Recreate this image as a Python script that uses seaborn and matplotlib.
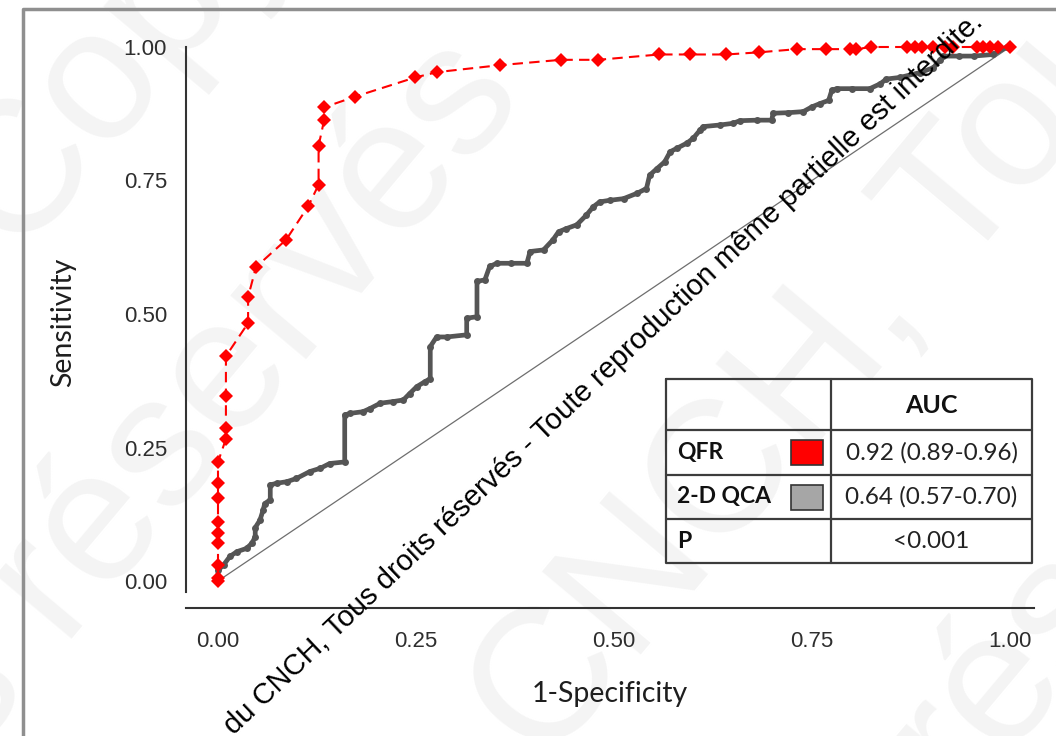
"""
ROC curves: QFR vs 2-D QCA
"""
import matplotlib
matplotlib.use("Agg")
import matplotlib.pyplot as plt
import seaborn as sns
import pandas as pd
from matplotlib.patches import Rectangle

# --- data ---------------------------------------------------------------
qfr_fpr = [0, 0, 0, 0, 0, 0, 0, 0, 0, 0.010, 0.010, 0.010, 0.010,
           0.038, 0.038, 0.048, 0.086, 0.114, 0.127, 0.127, 0.134, 0.134,
           0.173, 0.249, 0.277, 0.356, 0.433, 0.480, 0.557, 0.596, 0.642,
           0.683, 0.731, 0.768, 0.798, 0.806, 0.825, 0.870, 0.880, 0.889,
           0.903, 0.918, 0.928, 0.958, 0.966, 0.975, 0.985, 1.0]
qfr_tpr = [0.0, 0.006, 0.030, 0.071, 0.090, 0.110, 0.155, 0.184, 0.223,
           0.266, 0.287, 0.346, 0.421, 0.483, 0.532, 0.588, 0.639, 0.702,
           0.742, 0.815, 0.863, 0.887, 0.907, 0.943, 0.953, 0.966, 0.976,
           0.976, 0.986, 0.986, 0.986, 0.990, 0.996, 0.996, 0.996, 0.996,
           1.0, 1.0, 1.0, 1.0, 1.0, 1.0, 1.0, 1.0, 1.0, 1.0, 1.0, 1.0]

qca_fpr = [0.0, 0.0, 0.007, 0.015, 0.024, 0.036, 0.043, 0.047, 0.047, 0.053,
           0.057, 0.059, 0.066, 0.066, 0.074, 0.087, 0.099, 0.116, 0.129,
           0.141, 0.160, 0.160, 0.167, 0.183, 0.192, 0.205, 0.221, 0.234,
           0.242, 0.251, 0.261, 0.268, 0.268, 0.276, 0.289, 0.314, 0.314,
           0.327, 0.327, 0.337, 0.343, 0.352, 0.370, 0.390, 0.394, 0.411,
           0.423, 0.430, 0.440, 0.453, 0.465, 0.474, 0.482, 0.495, 0.512,
           0.529, 0.541, 0.545, 0.554, 0.564, 0.571, 0.579, 0.592, 0.600,
           0.609, 0.613, 0.634, 0.650, 0.659, 0.680, 0.699, 0.701, 0.720,
           0.739, 0.750, 0.760, 0.771, 0.775, 0.781, 0.800, 0.823, 0.836,
           0.844, 0.861, 0.886, 0.903, 0.912, 0.916, 0.935, 0.954, 0.979,
           0.996, 1.0]
qca_tpr = [0.0, 0.020, 0.030, 0.046, 0.055, 0.061, 0.071, 0.083, 0.100, 0.114,
           0.133, 0.145, 0.152, 0.180, 0.183, 0.186, 0.192, 0.205, 0.211,
           0.220, 0.223, 0.311, 0.314, 0.317, 0.323, 0.333, 0.336, 0.339,
           0.351, 0.364, 0.373, 0.379, 0.439, 0.457, 0.457, 0.461, 0.492,
           0.495, 0.561, 0.564, 0.589, 0.595, 0.595, 0.595, 0.617, 0.620,
           0.639, 0.654, 0.660, 0.667, 0.685, 0.701, 0.710, 0.713, 0.716,
           0.726, 0.735, 0.760, 0.772, 0.785, 0.804, 0.810, 0.820, 0.829,
           0.845, 0.851, 0.854, 0.857, 0.862, 0.863, 0.863, 0.876, 0.877,
           0.879, 0.888, 0.894, 0.900, 0.919, 0.922, 0.922, 0.922, 0.931,
           0.940, 0.943, 0.952, 0.961, 0.976, 0.983, 0.983, 0.983, 0.986,
           1.0, 1.0]

ref_line = [0.0, 1.0]

tick_values = [0.0, 0.25, 0.50, 0.75, 1.0]
tick_labels = ['0.00', '0.25', '0.50', '0.75', '1.00']

row_names = ['QFR', '2-D QCA', 'P']
row_auc = ['0.92 (0.89-0.96)', '0.64 (0.57-0.70)', '<0.001']
row_swatch = ['#ff0000', '#a6a6a6', None]

watermark = "du CNCH, Tous droits réservés - Toute reproduction même partielle est interdite."

# --- figure --------------------------------------------------------------
sns.set_style('white')
plt.rcParams['font.family'] = ['Liberation Sans', 'DejaVu Sans']

W, H = 1056, 736
fig = plt.figure(figsize=(W / 100, H / 100), dpi=100)

# background layer in pixel coordinates (faint watermark)
bg = fig.add_axes([0, 0, 1, 1], zorder=0)
bg.set_xlim(0, W)
bg.set_ylim(H, 0)
bg.axis('off')
for x, y, s in [(15, 255, 'Copyright'), (-30, 760, 's réservés'),
                (545, 770, 'CNCH, Tous'), (960, 800, 'rés')]:
    bg.text(x, y, s, rotation=50, rotation_mode='anchor', fontsize=135,
            color='#f4f4f4', ha='left', va='baseline')

# main plot area, placed so that 0..1 maps onto the reference pixels
px_x0, px_x1 = 218, 1010
px_y0, px_y1 = 581, 47
xlim = (-0.04, 1.03)
ylim = (-0.05, 1.02)
left = (px_x0 + xlim[0] * (px_x1 - px_x0)) / W
right = (px_x0 + xlim[1] * (px_x1 - px_x0)) / W
bottom = (H - (px_y0 + ylim[0] * (px_y1 - px_y0))) / H
top = (H - (px_y0 + ylim[1] * (px_y1 - px_y0))) / H
ax = fig.add_axes([left, bottom, right - left, top - bottom], zorder=1)
ax.patch.set_alpha(0)

ax.plot(ref_line, ref_line, color='#6e6e6e', linewidth=0.9, zorder=1)

sns.lineplot(x=qca_fpr, y=qca_tpr, ax=ax, estimator=None, sort=False,
             color='#555555', linewidth=3.4, marker='o', markersize=5,
             markeredgewidth=0, legend=False, zorder=2)
sns.lineplot(x=qfr_fpr, y=qfr_tpr, ax=ax, estimator=None, sort=False,
             color='#ff0000', linewidth=1.5, linestyle=(0, (5, 3)),
             marker='D', markersize=7.5, markeredgewidth=0, legend=False,
             zorder=3, clip_on=False)

ax.set_xlim(*xlim)
ax.set_ylim(*ylim)
ax.set_xticks(tick_values)
ax.set_xticklabels(tick_labels)
ax.set_yticks(tick_values)
ax.set_yticklabels(tick_labels)
sns.despine(ax=ax)
for side in ['left', 'bottom']:
    ax.spines[side].set_color('#333333')
    ax.spines[side].set_linewidth(1.5)
ax.spines['left'].set_bounds(-0.02, 1.0)
ax.tick_params(axis='both', direction='out', length=9, width=1.5,
               color='#333333', labelsize=16, labelcolor='#2e2e2e')
ax.tick_params(axis='y', pad=5)
ax.tick_params(axis='x', pad=8)
ax.set_xlabel('1-Specificity', fontsize=20.5, family=['Lato', 'DejaVu Sans'],
              color='#1e1e1e', labelpad=21)
ax.set_ylabel('Sensitivity', fontsize=20.5, family=['Lato', 'DejaVu Sans'],
              color='#1e1e1e', labelpad=34)

# overlay layer: AUC table, frame, watermark sentence
ov = fig.add_axes([0, 0, 1, 1], zorder=2)
ov.set_xlim(0, W)
ov.set_ylim(H, 0)
ov.axis('off')
ov.patch.set_alpha(0)

tx0, tx1, tcol = 666, 1032, 831
row_lines = [379, 430, 475, 519, 563]
line_kw = dict(color='#3c3c3c', linewidth=1.6)
ov.plot([tx0, tx1, tx1, tx0, tx0],
        [row_lines[0], row_lines[0], row_lines[-1], row_lines[-1], row_lines[0]], **line_kw)
for yl in row_lines[1:-1]:
    ov.plot([tx0, tx1], [yl, yl], **line_kw)
ov.plot([tcol, tcol], [row_lines[0], row_lines[-1]], **line_kw)

tfont = ['Lato', 'DejaVu Sans']
ov.text((tcol + tx1) / 2, (row_lines[0] + row_lines[1]) / 2 + 1, 'AUC',
        ha='center', va='center', fontsize=18, fontweight='bold',
        family=tfont, color='#111111')
for i, (name, auc, sw) in enumerate(zip(row_names, row_auc, row_swatch)):
    yc = (row_lines[i + 1] + row_lines[i + 2]) / 2
    ov.text(tx0 + 11, yc, name, ha='left', va='center', fontsize=16.5,
            fontweight='bold', family=tfont, color='#111111')
    ov.text((tcol + tx1) / 2, yc, auc, ha='center', va='center',
            fontsize=17.5, family=tfont, color='#222222')
    if sw is not None:
        ov.add_patch(Rectangle((791, yc - 12.5), 32, 25, facecolor=sw,
                               edgecolor='#333333', linewidth=1.2))

# outer frame of the picture
ov.plot([23, 23, 1060], [745, 9, 9], color='#8f8f8f', linewidth=2.5,
        clip_on=False)

ov.text(234, 736, watermark, rotation=43.5, rotation_mode='anchor',
        ha='left', va='baseline', fontsize=21, color='black',
        family=['Liberation Sans', 'DejaVu Sans'])

fig.savefig('out.png', dpi=100)
